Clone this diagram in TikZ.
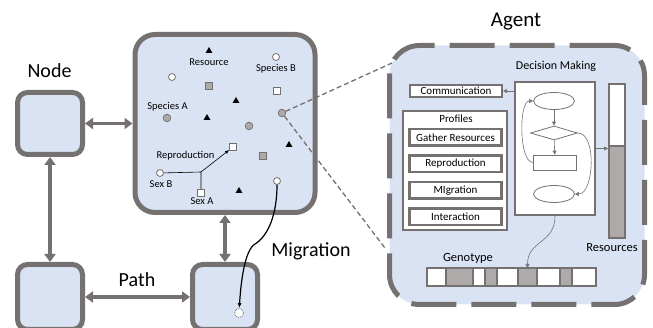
\documentclass[tikz,border=0pt]{standalone}
\usepackage{fontspec}
\setmainfont{Carlito}
\usetikzlibrary{positioning,shapes.geometric,arrows.meta}
\definecolor{nodeblue}{HTML}{DAE3F3}
\definecolor{rimgrey}{HTML}{767171}
\definecolor{dotgrey}{HTML}{AEAAAA}
\newcommand{\fsz}[1]{\fontsize{#1}{#1}\selectfont}

\begin{document}
\begin{tikzpicture}[x=1pt,y=-1pt]
      \tikzstyle{site}=[rectangle, rounded corners=10pt, line width=5pt, draw=rimgrey, fill=nodeblue, inner sep=0pt, minimum width=65pt, minimum height=65pt]
      \tikzstyle{link}=[{Triangle[length=8pt,width=11pt]}-{Triangle[length=8pt,width=11pt]}, line width=3.5pt, draw=rimgrey]
      \tikzstyle{title}=[font=\fsz{20}, anchor=base, inner sep=0pt]
      \tikzstyle{tag}=[font=\fsz{10.5}, anchor=base, inner sep=0pt]
      \tikzstyle{food}=[regular polygon, regular polygon sides=3, fill=black, inner sep=0pt, minimum size=8pt]
      \tikzstyle{dotA}=[circle, draw=rimgrey, fill=dotgrey, line width=0.8pt, inner sep=0pt, minimum size=7.5pt]
      \tikzstyle{dotB}=[circle, draw=rimgrey, fill=white, line width=0.8pt, inner sep=0pt, minimum size=7pt]
      \tikzstyle{patch}=[rectangle, draw=rimgrey, fill=dotgrey, line width=0.8pt, inner sep=0pt, minimum size=7pt]
      \tikzstyle{mate}=[rectangle, draw=rimgrey, fill=white, line width=0.8pt, inner sep=0pt, minimum size=7pt]
      \tikzstyle{card}=[rectangle, draw=rimgrey, fill=white, line width=2pt, inner sep=0pt, font=\fsz{11}]
      \tikzstyle{profile}=[card, line width=2.5pt, minimum width=92pt, minimum height=16.5pt, node distance=7.5pt]
      \tikzstyle{flowstep}=[draw=rimgrey, fill=white, line width=0.8pt, inner sep=0pt]
      \tikzstyle{flow}=[-{Triangle[length=4pt,width=4pt]}, draw=rimgrey, line width=0.6pt]
      \tikzstyle{gene}=[rectangle, draw=rimgrey, line width=2pt, inner sep=0pt, outer sep=0pt, minimum height=18pt]
      \tikzstyle{zoomline}=[draw=rimgrey, line width=1.3pt, dash pattern=on 5pt off 3pt]

      \useasboundingbox (0,0) rectangle (653,328);

      % network of nodes
      \node[site, minimum height=62pt] (n1) at (50,123.5) {};
      \node[site, rounded corners=20pt, minimum width=180pt, minimum height=178pt] (n2) at (225,123.5) {};
      \node[site] (n3) at (50,297) {};
      \node[site] (n4) at (225,297) {};

      \path (n1) edge [link] (n2)
            (n1) edge [link] (n3)
            (n2) edge [link] (n4)
            (n3) edge [link] (n4);

      \node[title] at (49.5,78) {Node};
      \node[title] at (137,287) {Path};
      \node[title] at (311,257) {Migration};

      % inside the big node
      \node[food] (f1) at (209,51) {};
      \node[food] (f2) at (236,101) {};
      \node[food] (f3) at (207,118) {};
      \node[food] (f4) at (289,145) {};
      \node[food] (f5) at (239,191) {};
      \node[patch] (p1) at (209,86) {};
      \node[patch] (p2) at (263,156) {};
      \node[dotA] (a1) at (167,118) {};
      \node[dotA] (ag) at (282,113) {};
      \node[dotA] (a3) at (249,126) {};
      \node[dotB] (b1) at (276,57) {};
      \node[dotB] (b2) at (172,77) {};
      \node[dotB] (sexB) at (160,173) {};
      \node[dotB] (mig) at (277,181) {};
      \node[mate] (m1) at (277,91) {};
      \node[mate] (child) at (233,147) {};
      \node[mate] (sexA) at (201,193) {};

      \node[tag] at (209,65.7) {Resource};
      \node[tag] at (276,72) {Species B};
      \node[tag] at (167.5,110) {Species A};
      \node[tag] at (185.5,159) {Reproduction};
      \node[tag] at (161,188) {Sex B};
      \node[tag] at (202,205) {Sex A};

      \coordinate (meet) at (201,172);
      \draw[line width=0.6pt] (sexB) -- (meet) (sexA) -- (meet);
      \draw[-{Latex[length=4pt,width=3.5pt]}, line width=0.6pt] (meet) -- (child);

      \node[circle, draw=rimgrey, densely dotted, fill=white, line width=0.8pt, inner sep=0pt, minimum size=9pt] (ghost) at (239,313) {};
      \draw[-{Latex[length=5pt,width=4pt]}, line width=1.2pt] (mig) .. controls (277,215) and (268,236) .. (255,244) .. controls (245,250) and (241,280) .. (ghost);

      % agent
      \node[rectangle, rounded corners=30pt, line width=5pt, draw=rimgrey, fill=nodeblue, dash pattern=on 45pt off 15pt, minimum width=255pt, minimum height=259pt] (agent) at (517,175) {};
      \node[title, font=\fsz{21}] at (516,27) {Agent};

      \coordinate (zoomtop) at (392,63);
      \coordinate (zoombot) at (385,248);
      \draw[zoomline] (ag) -- (zoomtop) (ag) -- (zoombot);

      \node[card, minimum width=80pt, minimum height=133pt] (dec) at (555,148.5) {};
      \node[tag, font=\fsz{12}] at (556,70) {Decision Making};
      \node[card, minimum width=92pt, minimum height=12pt] (comm) at (456,91) {Communication};
      \node[card, minimum width=104pt, minimum height=119pt] (prof) at (455,170.5) {};
      \node[tag, font=\fsz{11}] at (456,123) {Profiles};

      \node[profile] (gather) at (455.5,137.5) {Gather Resources};
      \node[profile] (repro) [below=of gather] {Reproduction};
      \node[profile] (migr) [below=of repro] {MIgration};
      \node[profile] (inter) [below=of migr] {Interaction};

      \node[flowstep, ellipse, minimum width=41pt, minimum height=17pt] (fs) at (554,101) {};
      \node[flowstep, diamond, aspect=3.3, minimum width=47pt, minimum height=14pt] (fd) at (554,133) {};
      \node[flowstep, rectangle, minimum width=43pt, minimum height=15pt] (fr) at (555,162.5) {};
      \node[flowstep, ellipse, minimum width=41pt, minimum height=17pt] (fe) at (554,194) {};

      \path (fs) edge [flow] (fd)
            (fd) edge [flow] (fr);
      \draw[flow] (fr.west) to[out=180, in=180, looseness=0.6] (fs.west);
      \draw[flow] (fd.east) to[out=0, in=0, looseness=0.8] (fe.east);

      \node[card, minimum width=16pt, minimum height=62pt] (restop) at (617,115) {};
      \node[card, fill=dotgrey, minimum width=16pt, minimum height=92pt] (resbot) at (617,192) {};
      \node[tag, font=\fsz{12.5}] at (612,252) {Resources};

      \draw[flow] (dec.west |- comm) -- (comm.east);
      \draw[flow] (dec.east) -- (dec.east -| resbot.west);

      % genotype
      \foreach \a/\b/\c [count=\i] in {427/446/white, 446/473/dotgrey, 473/485/white, 485/497/dotgrey, 497/518/white, 518/537/dotgrey, 537/560/white, 560/572/dotgrey, 572/596/white}
      {
        \pgfmathsetmacro{\w}{\b-\a}
        \pgfmathsetmacro{\m}{(\a+\b)/2}
        \node[gene, fill=\c, minimum width=\w pt] (g\i) at (\m,277) {};
      }
      \node[tag, font=\fsz{12.5}] at (468,262) {Genotype};

      \draw[flow] (dec.south) .. controls +(0,28) and +(0,-28) .. (g6.north);
\end{tikzpicture}
\end{document}
